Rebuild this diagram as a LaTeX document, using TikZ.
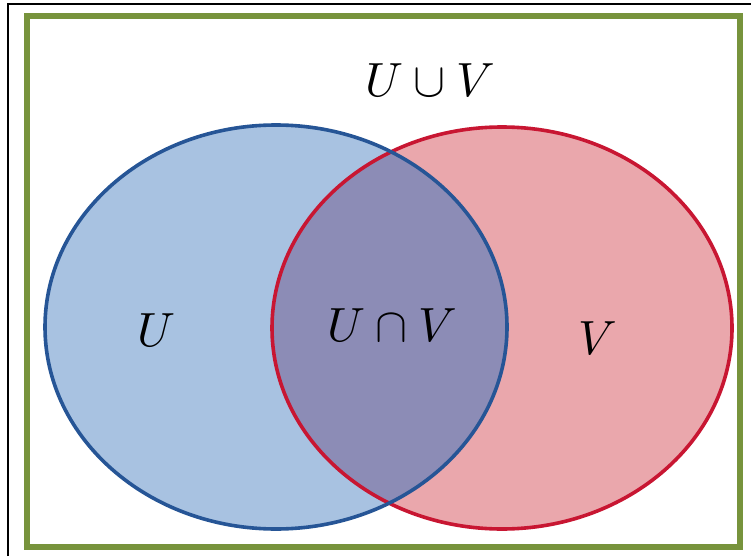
\documentclass[tikz,border=0pt]{standalone}
\usepackage{amsmath}
\definecolor{frameg}{RGB}{119,147,60}
\definecolor{bluefill}{RGB}{168,194,225}
\definecolor{bluedraw}{RGB}{38,85,150}
\definecolor{redfill}{RGB}{234,167,172}
\definecolor{reddraw}{RGB}{200,22,50}
\definecolor{midfill}{RGB}{140,140,182}
\tikzset{lbl/.style={scale=4.8, inner sep=0pt}}
\begin{document}
\begin{tikzpicture}[x=1pt,y=-1pt]
\useasboundingbox (0,0) rectangle (751,556);
\fill[white] (0,0) rectangle (751,556);
\draw[black, line width=1.5pt] (8,556) -- (8,4) -- (751,4);
\draw[frameg, line width=6pt] (27,16) rectangle (740,547);
\def\blueell{(276,327) ellipse [x radius=231, y radius=202]}
\def\redell{(502,328) ellipse [x radius=230, y radius=201]}
\fill[bluefill] \blueell;
\fill[redfill] \redell;
\begin{scope}
\clip \blueell;
\fill[midfill] \redell;
\end{scope}
\draw[reddraw, line width=3.6pt] \redell;
\draw[bluedraw, line width=3.6pt] \blueell;
\node[lbl] (uv) at (430,80) {$U\cup V$};
\node[lbl] (u) at (157,330) {$U$};
\node[lbl] (inter) at (392,325) {$U\cap V$};
\node[lbl] (v) at (598,338) {$V$};
\end{tikzpicture}
\end{document}
